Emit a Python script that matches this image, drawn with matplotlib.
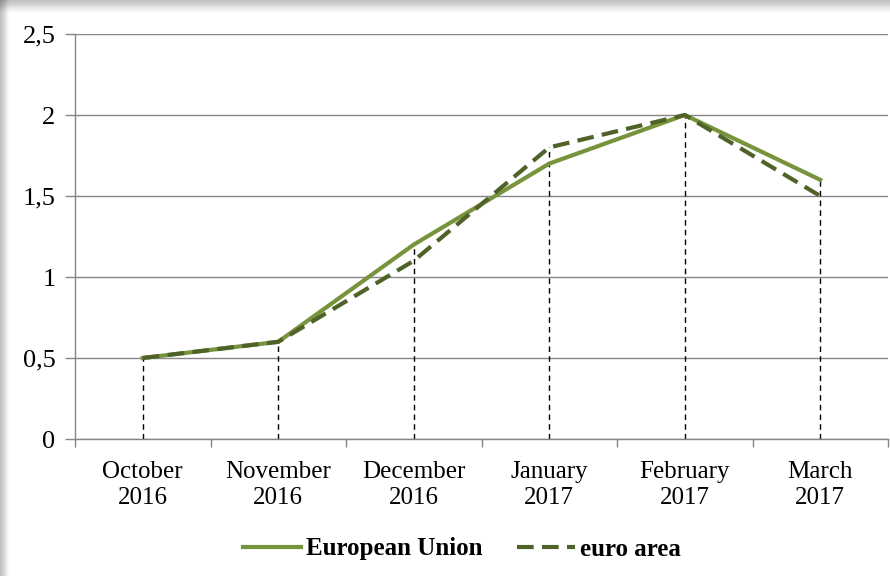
import matplotlib.pyplot as plt
from matplotlib.patches import Rectangle
import numpy as np

plt.rcParams['font.family'] = ['Liberation Serif', 'DejaVu Serif']

months = ['October\n2016', 'November\n2016', 'December\n2016',
          'January\n2017', 'February\n2017', 'March\n2017']
eu = [0.5, 0.6, 1.2, 1.7, 2.0, 1.6]
euro_area = [0.5, 0.6, 1.1, 1.8, 2.0, 1.5]
yticks = [0, 0.5, 1, 1.5, 2, 2.5]
ylabels = ['0', '0,5', '1', '1,5', '2', '2,5']

fig = plt.figure(figsize=(8.9, 5.76), dpi=100)

# shadow frame on the top and left edges
for i in range(10):
    a = 0.25 * (10 - i) / 10
    fig.patches.append(Rectangle((0, 1 - (i + 1) * 1.2 / 576), 1, 1.2 / 576,
                                 transform=fig.transFigure, color='black',
                                 alpha=a, lw=0))
    fig.patches.append(Rectangle((i * 0.9 / 890, 0), 0.9 / 890, 1,
                                 transform=fig.transFigure, color='black',
                                 alpha=a, lw=0))

ax = fig.add_axes([75 / 890, 137 / 576, 813 / 890, 405 / 576])
x = np.arange(len(months))

ax.vlines(x, 0, np.maximum(eu, euro_area), colors='black',
          linestyles=(0, (4, 3)), linewidth=1, zorder=2)
ax.plot(x, eu, color='#77933C', linewidth=3, label='European Union', zorder=3)
ax.plot(x, euro_area, color='#4F6228', linewidth=3, linestyle=(0, (4, 2)),
        label='euro area', zorder=4)

ax.set_xlim(-0.5, len(months) - 0.5)
ax.set_ylim(0, 2.5)
ax.set_yticks(yticks)
ax.set_yticklabels(ylabels, fontsize=19)
ax.yaxis.grid(True, color='#868686', linewidth=1)
ax.set_axisbelow(True)

ax.set_xticks(x)
ax.set_xticklabels(months, fontsize=18, linespacing=1.25)
ax.set_xticks(np.arange(len(months) + 1) - 0.5, minor=True)
ax.tick_params(axis='x', which='major', length=0, pad=16)
ax.tick_params(axis='x', which='minor', length=6, color='#868686', width=1)
ax.tick_params(axis='y', length=7, color='#868686', width=1, pad=7)

for s in ['top', 'right']:
    ax.spines[s].set_visible(False)
for s in ['left', 'bottom']:
    ax.spines[s].set_color('#868686')
    ax.spines[s].set_linewidth(1)

leg = fig.legend(loc='center', bbox_to_anchor=(462 / 890, 27 / 576), ncol=2,
                 frameon=False, prop={'weight': 'bold', 'size': 18},
                 handlelength=2.3, columnspacing=1.4, handletextpad=0.2)

fig.savefig('out.png', dpi=100)
